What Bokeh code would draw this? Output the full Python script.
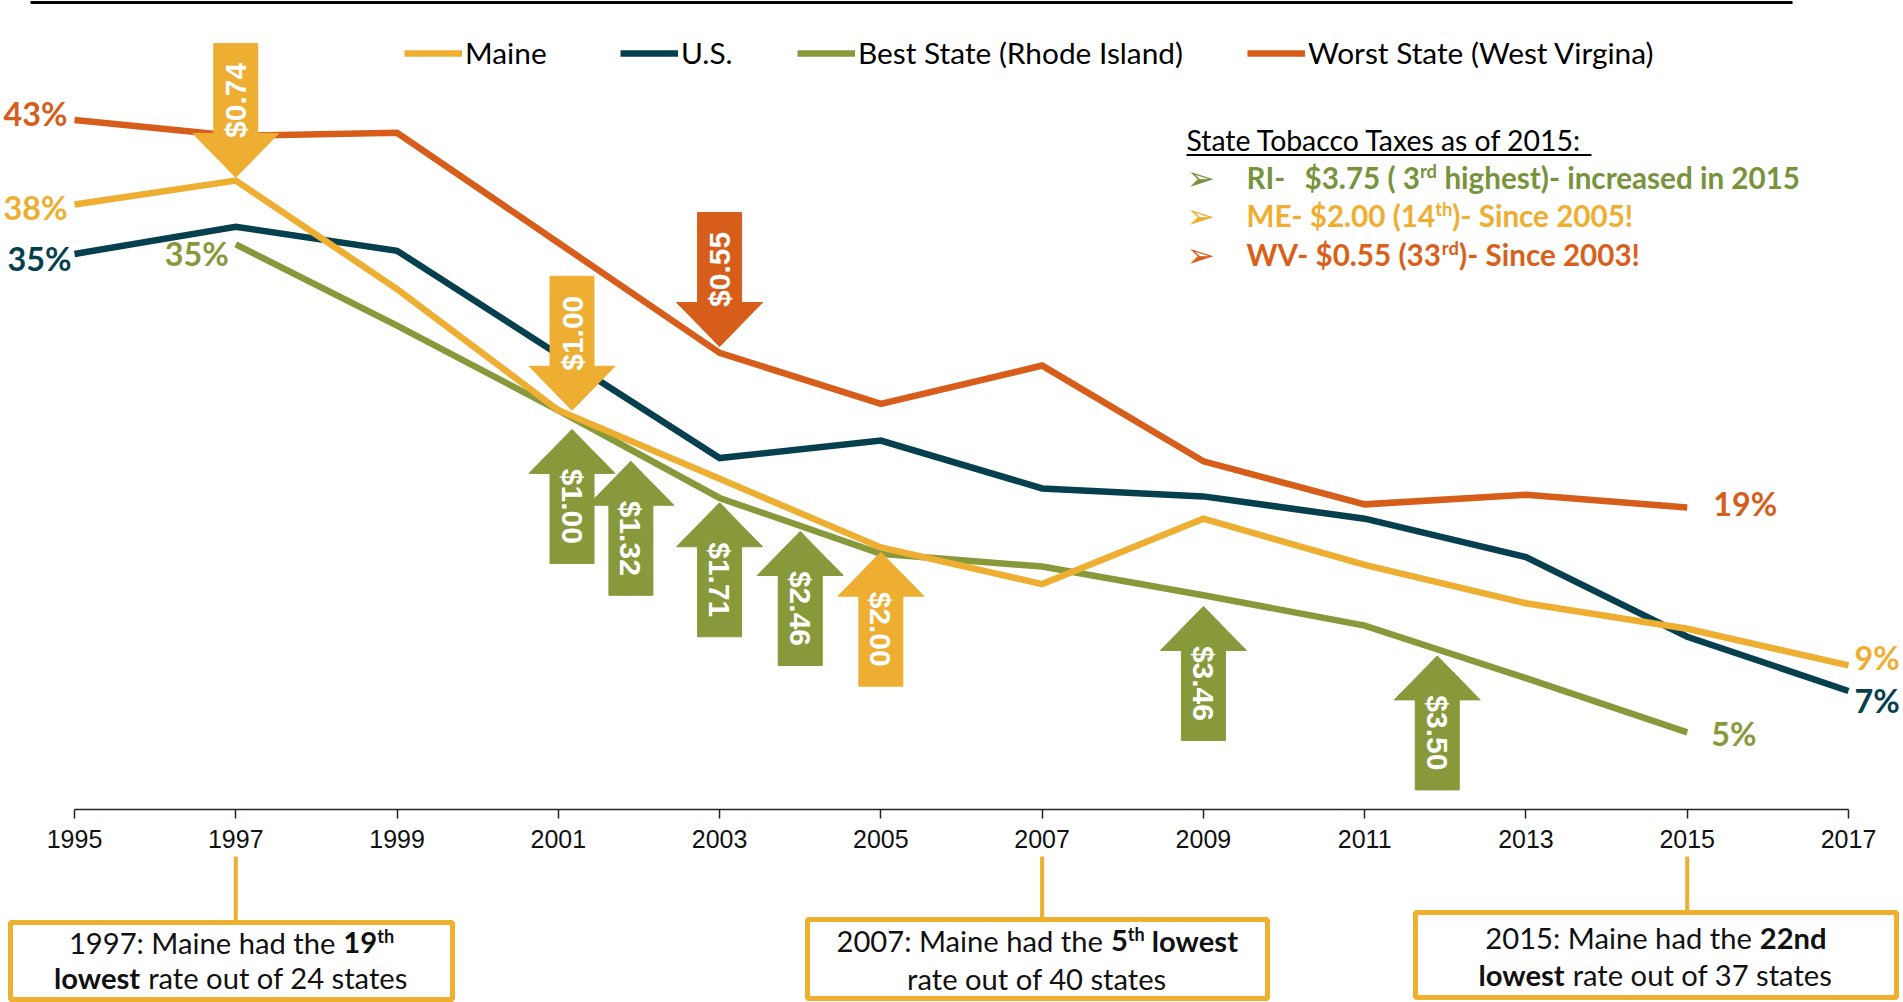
import os, glob, struct, subprocess
from math import pi
from bokeh.plotting import figure
from bokeh.models import Range1d, FixedTicker, Legend, LegendItem, LinearAxis
from bokeh.core.properties import value
from bokeh.embed import file_html
from bokeh.resources import INLINE

# ---------------- data (smoking rate, %) ----------------
years = [1995, 1997, 1999, 2001, 2003, 2005, 2007, 2009, 2011, 2013, 2015, 2017]
maine = [37.9, 39.4, 32.6, 25.0, 20.7, 16.4, 14.1, 18.2, 15.3, 12.9, 11.3, 9.0]
us = [34.8, 36.5, 35.0, 28.5, 22.0, 23.1, 20.1, 19.6, 18.2, 15.8, 10.8, 7.4]
ri_years = [1997, 1999, 2001, 2003, 2005, 2007, 2009, 2011, 2013, 2015]
rhode_island = [35.4, 30.3, 25.0, 19.5, 16.0, 15.2, 13.4, 11.5, 8.2, 4.8]
wv_years = [1995, 1997, 1999, 2001, 2003, 2005, 2007, 2009, 2011, 2013, 2015]
west_virginia = [43.2, 42.2, 42.4, 35.5, 28.6, 25.4, 27.8, 21.8, 19.1, 19.7, 18.9]
series_names = ["Maine", "U.S.", "Best State (Rhode Island)", "Worst State (West Virgina)"]
tick_years = list(range(1995, 2018, 2))

# tobacco tax changes (arrows)
tax_year = [1997, 2001.17, 2003, 2001.17, 2001.9, 2003, 2004, 2005, 2009, 2011.9]
tax_level = [39.6, 25.0, 29.0, 23.8, 21.8, 19.2, 17.4, 16.1, 12.7, 9.6]
tax_label = ["$0.74", "$1.00", "$0.55", "$1.00", "$1.32", "$1.71", "$2.46", "$2.00", "$3.46", "$3.50"]
tax_state = ["ME", "ME", "WV", "RI", "RI", "RI", "RI", "ME", "RI", "RI"]
tax_dir = ["down", "down", "down", "up", "up", "up", "up", "up", "up", "up"]

# notes under the axis
note_years = [1997, 2007, 2015]
note_rank = ["19", "5", "22nd"]
note_total = [24, 40, 37]

# ---------------- styling / layout ----------------
C_ME, C_US, C_RI, C_WV = "#EDAE32", "#06404F", "#87993A", "#D65D1A"
STATE_COL = {"ME": C_ME, "RI": C_RI, "WV": C_WV}
W, H, M = 1903, 1002, 0
X0, XS = 74.0, 80.636      # px of 1995, px per year
Y0, YS = 808.5, 15.95      # px of 0 %, px per %

def px2x(px):
    return 1995 + (px - X0) / XS

def px2y(py):
    return (Y0 - py) / YS

# ---------------- font metrics (for rich text runs) ----------------
def _font_file(family, bold):
    style = "Bold" if bold else "Regular"
    key = family.replace(" ", "").lower()
    try:
        r = subprocess.run(["fc-match", "-f", "%{file}", f"{family}:style={style}"],
                           capture_output=True, text=True, timeout=10)
        f = r.stdout.strip()
        if f and os.path.exists(f) and key in os.path.basename(f).replace("-", "").replace(" ", "").lower():
            return f
    except Exception:
        pass
    name = family.replace(" ", "")
    for root in ("/usr/share/fonts", "/usr/local/share/fonts"):
        for ext in ("ttf", "otf"):
            hits = glob.glob(f"{root}/**/{name}-{style}.{ext}", recursive=True)
            if hits:
                return hits[0]
    return None

def _advances(path):
    d = open(path, "rb").read()
    off0 = struct.unpack(">I", d[12:16])[0] if d[:4] == b"ttcf" else 0
    n = struct.unpack(">H", d[off0 + 4:off0 + 6])[0]
    t = {}
    for i in range(n):
        rec = off0 + 12 + 16 * i
        t[d[rec:rec + 4].decode("latin1")] = struct.unpack(">I", d[rec + 8:rec + 12])[0]
    upem = struct.unpack(">H", d[t["head"] + 18:t["head"] + 20])[0]
    nhm = struct.unpack(">H", d[t["hhea"] + 34:t["hhea"] + 36])[0]
    hm = t["hmtx"]
    adv = [struct.unpack(">H", d[hm + 4 * i:hm + 4 * i + 2])[0] for i in range(nhm)]
    cm = t["cmap"]
    nsub = struct.unpack(">H", d[cm + 2:cm + 4])[0]
    sub = None
    for i in range(nsub):
        pid, eid, so = struct.unpack(">HHI", d[cm + 4 + 8 * i:cm + 12 + 8 * i])
        if struct.unpack(">H", d[cm + so:cm + so + 2])[0] == 4 and pid in (0, 3):
            sub = cm + so
            break
    segx2 = struct.unpack(">H", d[sub + 6:sub + 8])[0]
    seg = segx2 // 2
    ends = struct.unpack(f">{seg}H", d[sub + 14:sub + 14 + segx2])
    so_ = sub + 16 + segx2
    starts = struct.unpack(f">{seg}H", d[so_:so_ + segx2])
    deltas = struct.unpack(f">{seg}h", d[so_ + segx2:so_ + 2 * segx2])
    ro = so_ + 2 * segx2
    ros = struct.unpack(f">{seg}H", d[ro:ro + segx2])

    def gid(c):
        for k in range(seg):
            if ends[k] >= c:
                if starts[k] > c:
                    return 0
                if ros[k] == 0:
                    return (c + deltas[k]) & 0xFFFF
                a = ro + 2 * k + ros[k] + 2 * (c - starts[k])
                g = struct.unpack(">H", d[a:a + 2])[0]
                return (g + deltas[k]) & 0xFFFF if g else 0
        return 0

    def width(s):
        tot = 0
        for ch in s:
            g = gid(ord(ch))
            tot += adv[g] if g < nhm else adv[-1]
        return tot / upem
    return width

FONT = "Lato"
_cache = {}

def em(txt, bold=False, family=FONT):
    key = (family, bold)
    if key not in _cache:
        fn = None
        try:
            path = _font_file(family, bold)
            if path:
                fn = _advances(path)
                fn("Test")
        except Exception:
            fn = None
        if fn is None:
            fn = lambda s, b=bold: sum(0.26 if c == " " else (0.57 if b else 0.52) for c in s)
        _cache[key] = fn
    return _cache[key](txt)

def clamp(v, lo, hi):
    return max(lo, min(hi, v))

SUP = 0.62
MID = 0.36   # visual middle of a text line above its baseline, in em

def runs_width(runs, size):
    return sum(em(t, b) * size * (SUP if s else 1) for t, b, s in runs)

# ---------------- figure ----------------
p = figure(width=W, height=H, output_backend="svg", toolbar_location=None,
           x_range=Range1d(px2x(M), px2x(M + W)), y_range=Range1d(px2y(M + H), px2y(M)),
           x_axis_location=None, y_axis_location=None, min_border=0,
           outline_line_color=None, background_fill_color="white", border_fill_color="white")
p.grid.visible = False

def draw_runs(runs, x_px, base_px, size, color, align="left"):
    total = runs_width(runs, size)
    x = x_px - (total / 2 if align == "center" else 0)
    for txt, bold, sup in runs:
        fs = size * (SUP if sup else 1)
        lead = len(txt) - len(txt.lstrip(" "))
        xd = x + em(" " * lead, bold) * fs
        by = base_px - (0.36 * size if sup else 0)
        p.text(x=[px2x(xd)], y=[px2y(by - MID * fs)], text=[txt.strip()], text_font=value(FONT),
               text_font_size=f"{fs:.2f}px", text_font_style="bold" if bold else "normal",
               text_color=color, text_align="left", text_baseline="middle")
        x += em(txt, bold) * fs
    return total

# top rule
p.segment(x0=[px2x(30)], x1=[px2x(1792)], y0=[px2y(2)], y1=[px2y(2)], line_color="black", line_width=3)

# axis
axis = LinearAxis(fixed_location=0, ticker=FixedTicker(ticks=tick_years), bounds=(1995, 2017),
                  axis_line_color="#222222", axis_line_width=1.5,
                  major_tick_line_color="#222222", major_tick_line_width=1.5,
                  major_tick_out=9, major_tick_in=0, minor_tick_out=0, minor_tick_in=0,
                  major_label_standoff=12, major_label_text_font="Liberation Sans",
                  major_label_text_font_size="25px", major_label_text_color="#111111")
p.add_layout(axis, "below")

# series lines (Maine drawn on top)
LW = 6.5
r_wv = p.line(wv_years, west_virginia, line_color=C_WV, line_width=LW, line_join="miter")
r_ri = p.line(ri_years, rhode_island, line_color=C_RI, line_width=LW, line_join="miter")
r_us = p.line(years, us, line_color=C_US, line_width=LW, line_join="miter")
r_me = p.line(years, maine, line_color=C_ME, line_width=LW, line_join="miter")

# legends (one per entry, placed like the original)
s_leg = clamp(352 / em(series_names[3]), 22, 32)
leg_px = [404, 620, 797, 1247]
for r, name, lx in zip([r_me, r_us, r_ri, r_wv], series_names, leg_px):
    lg = Legend(items=[LegendItem(label=name, renderers=[r])], location=(lx - M, H - (53 - M) - 17),
                orientation="horizontal", padding=0, margin=0, spacing=0,
                border_line_color=None, background_fill_alpha=0,
                glyph_width=58, glyph_height=34, label_height=34, label_standoff=3,
                label_text_font=FONT, label_text_font_size=f"{s_leg:.2f}px", label_text_color="black")
    p.add_layout(lg, "center")

# tax arrows
HWS, HWH = 22 / XS, 43 / XS
HL, SL = 44 / YS, 90 / YS
axs, ays, acol, tx, ty, tang = [], [], [], [], [], []
for x, tip, st, d in zip(tax_year, tax_level, tax_state, tax_dir):
    k = 1 if d == "down" else -1
    hb = tip + k * HL
    tail = tip + k * (HL + SL)
    axs.append([x, x + HWH, x + HWS, x + HWS, x - HWS, x - HWS, x - HWH])
    ays.append([tip, hb, hb, tail, tail, hb, hb])
    acol.append(STATE_COL[st])
    tx.append(x)
    ty.append(tip + k * 77 / YS)
    tang.append(pi / 2 if d == "down" else -pi / 2)
p.patches(axs, ays, fill_color=acol, line_color=acol, line_width=1)
p.text(x=tx, y=ty, text=tax_label, angle=tang, text_font=value("Liberation Sans"),
       text_font_style="bold", text_font_size="30px", text_color="white",
       text_align="center", text_baseline="middle")

# end-point labels
s_pct = clamp(64 / em("43%", True), 26, 40)
lx = [wv_years[0], years[0], years[0], ri_years[0]]
ly = [west_virginia[0], maine[0], us[0], rhode_island[0]]
p.text(x=lx, y=ly, text=[f"{round(v)}%" for v in ly], text_color=[C_WV, C_ME, C_US, C_RI],
       x_offset=[-7, -7, -3, -7], y_offset=[-6, 3, 5, 9], text_align="right", text_baseline="middle",
       text_font=value(FONT), text_font_style="bold", text_font_size=f"{s_pct:.2f}px")
rx = [wv_years[-1], ri_years[-1], years[-1], years[-1]]
ry = [west_virginia[-1], rhode_island[-1], maine[-1], us[-1]]
p.text(x=rx, y=ry, text=[f"{round(v)}%" for v in ry], text_color=[C_WV, C_RI, C_ME, C_US],
       x_offset=[26, 24, 6, 6], y_offset=[-4, 1, -8, 10], text_align="left", text_baseline="middle",
       text_font=value(FONT), text_font_style="bold", text_font_size=f"{s_pct:.2f}px")

# tax summary box
title = "State Tobacco Taxes as of 2015:"
s_title = clamp(405 / em(title), 22, 34)
tw = draw_runs([(title, False, False)], 1186, 150, s_title, "black")
p.segment(x0=[px2x(1186)], x1=[px2x(1186 + tw)], y0=[px2y(154.5)], y1=[px2y(154.5)], line_color="black", line_width=2)

ri_tail = [("$3.75 ( 3", True, False), ("rd", True, True), (" highest)- increased in 2015", True, False)]
s_tax = clamp(496 / runs_width(ri_tail, 1.0), 20, 32)
bul_base = [188, 226, 265]
bul_col = ["#77933C", "#EFAE30", "#D9601A"]
for b, c in zip(bul_base, bul_col):
    p.text(x=[px2x(1186)], y=[px2y(b - MID * s_tax)], text=["\u27a2"], text_font=value("DejaVu Sans"),
           text_font_size="34px", text_color=c, text_align="left", text_baseline="middle")
draw_runs([("RI-", True, False)], 1246, bul_base[0], s_tax, bul_col[0])
draw_runs(ri_tail, 1304, bul_base[0], s_tax, bul_col[0])
draw_runs([("ME- $2.00 (14", True, False), ("th", True, True), (")- Since 2005!", True, False)],
          1246, bul_base[1], s_tax, bul_col[1])
draw_runs([("WV- $0.55 (33", True, False), ("rd", True, True), (")- Since 2003!", True, False)],
          1246, bul_base[2], s_tax, bul_col[2])

# notes below the axis
note_lines = [
    ([(f"{note_years[0]}: Maine had the ", False, False), (note_rank[0], True, False), ("th", True, True)],
     [("lowest", True, False), (f" rate out of {note_total[0]} states", False, False)]),
    ([(f"{note_years[1]}: Maine had the ", False, False), (note_rank[1], True, False), ("th", True, True),
      (" lowest", True, False)],
     [(f"rate out of {note_total[1]} states", False, False)]),
    ([(f"{note_years[2]}: Maine had the ", False, False), (note_rank[2], True, False)],
     [("lowest", True, False), (f" rate out of {note_total[2]} states", False, False)]),
]
s_note = clamp(355 / runs_width(note_lines[2][1], 1.0), 20, 32)
box_l = [10, 807, 1415]
box_r = [452, 1267, 1896]
box_t = [922, 919, 912]
box_b = [999, 998, 997]
base1 = [953, 951, 948]
base2 = [988, 989, 985]
p.segment(x0=note_years, x1=note_years, y0=[px2y(856)] * 3, y1=[px2y(t) for t in box_t],
          line_color=C_ME, line_width=4)
p.quad(left=[px2x(v) for v in box_l], right=[px2x(v) for v in box_r],
       top=[px2y(v) for v in box_t], bottom=[px2y(v) for v in box_b],
       fill_color="white", line_color="#EFB030", line_width=5)
for i, (l1, l2) in enumerate(note_lines):
    cx = (box_l[i] + box_r[i]) / 2
    draw_runs(l1, cx, base1[i], s_note, "#111111", align="center")
    draw_runs(l2, cx, base2[i], s_note, "#111111", align="center")

open("out.html", "w").write(file_html(p, INLINE))
